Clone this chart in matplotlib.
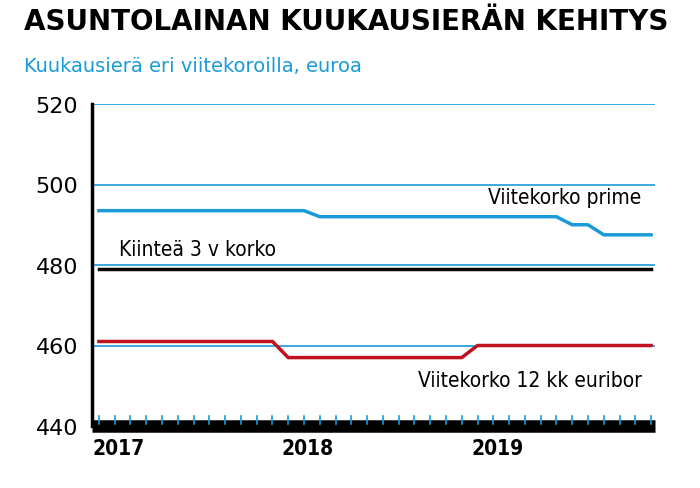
import matplotlib
matplotlib.use("Agg")
import matplotlib.pyplot as plt
import numpy as np

months = list(range(36))
prime = [493.5]*14 + [492]*16 + [490]*2 + [487.5]*4
euribor = [461]*12 + [457]*12 + [460]*12
fixed = [479]*36
years = ["2017", "2018", "2019"]
year_pos = [0, 12, 24]
yticks = [440, 460, 480, 500, 520]

blue = "#1a9ad9"
red = "#c0121e"
fig = plt.figure(figsize=(7, 4.89), dpi=100)
ax = fig.add_axes([92/700, 1-427/489, (655-92)/700, (427-105)/489])
ax.set_xlim(-0.44, 35.25)
ax.set_ylim(440, 520)
for y in yticks[1:]:
    ax.axhline(y, color=blue, lw=1.2, zorder=1)
ax.plot(months, prime, color=blue, lw=2.5, zorder=3)
ax.plot(months, euribor, color=red, lw=2.5, zorder=3)
ax.plot(months, fixed, color="black", lw=2.5, zorder=3)
for s in ["top", "right", "bottom"]:
    ax.spines[s].set_visible(False)
ax.spines["left"].set_linewidth(2.5)
ax.plot([-0.44, 35.25], [440, 440], color="black", lw=9, zorder=4, clip_on=False, solid_capstyle="butt")
for m in range(36):
    ax.plot([m, m], [440.5, 442.5], color=blue, lw=1.2, zorder=5, clip_on=False)
ax.set_yticks(yticks)
ax.set_yticklabels([str(v) for v in yticks], fontsize=16)
ax.tick_params(axis="y", length=0, pad=10)
ax.set_xticks([])
for p, lab in zip(year_pos, years):
    ax.text(p - 0.4, 437, lab, ha="left", va="top", fontsize=15, fontweight="bold", fontstretch="condensed")
ax.text(34.4, 497, "Viitekorko prime", ha="right", va="center", fontsize=15, fontstretch="condensed")
ax.text(1.3, 484, "Kiinteä 3 v korko", ha="left", va="center", fontsize=15, fontstretch="condensed")
ax.text(34.4, 451.5, "Viitekorko 12 kk euribor", ha="right", va="center", fontsize=15, fontstretch="condensed")
fig.text(24/700, 1-22/489, "ASUNTOLAINAN KUUKAUSIERÄN KEHITYS", fontsize=20, fontweight="bold", va="center")
fig.text(24/700, 1-67/489, "Kuukausierä eri viitekoroilla, euroa", fontsize=14, color=blue, va="center")
fig.savefig("out.png", dpi=100)
